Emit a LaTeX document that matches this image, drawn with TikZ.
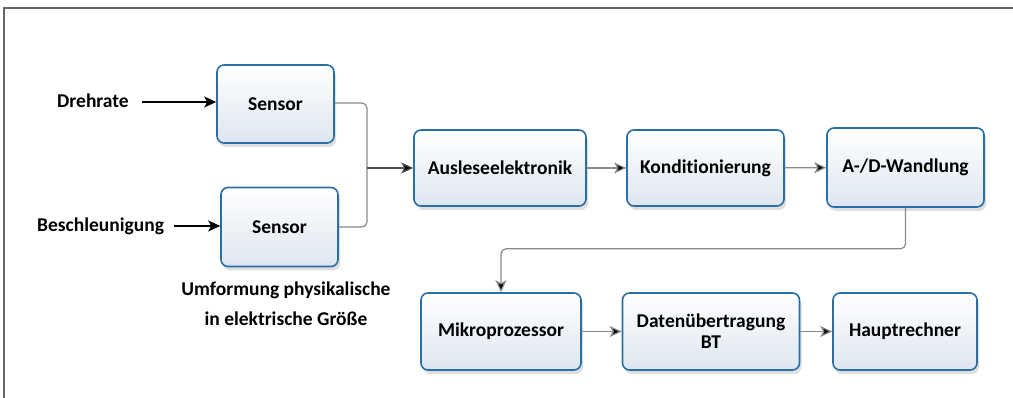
\documentclass[tikz,border=0pt]{standalone}
\usepackage{fontspec}
\setmainfont{Carlito}[Ligatures=NoCommon]
\usetikzlibrary{shadows,arrows.meta}
\definecolor{boxblue}{HTML}{2A6EA6}
\definecolor{boxfill}{HTML}{DDE6F0}
\definecolor{linegray}{HTML}{8A8A8A}
\tikzset{
  blk/.style={draw=boxblue, line width=1.6pt, rounded corners=7pt,
    top color=white, bottom color=boxfill, align=center,
    font=\bfseries\fontsize{19.5}{21}\selectfont, inner sep=0pt,
    drop shadow={shadow xshift=2pt, shadow yshift=-4pt, opacity=0.25, fill=gray}},
  lbl/.style={font=\bfseries\fontsize{19.5}{30}\selectfont, align=center},
  conn/.style={draw=linegray, line width=1.2pt, rounded corners=5pt,
    -{Stealth[length=12pt,width=11pt,inset=3pt,fill=black]}},
  inarr/.style={draw=black, line width=1.3pt, -{Stealth[length=12pt,width=11pt,inset=3pt]}},
}
\begin{document}
\begin{tikzpicture}[x=1pt,y=1pt]
\useasboundingbox (0,0) rectangle (1013,398);
% frame
\draw[draw=gray!80!black, line width=1.5pt] (4,0) -- (4,390) -- (1013,390);
% boxes
\node[blk, minimum width=117pt, minimum height=78pt] (s1) at (275.5,294) {Sensor};
\node[blk, minimum width=117pt, minimum height=79pt] (s2) at (279.5,171) {Sensor};
\node[blk, minimum width=172pt, minimum height=76pt] (ae) at (500,230) {Ausleseelektronik};
\node[blk, minimum width=157pt, minimum height=76pt] (ko) at (705.5,230) {Konditionierung};
\node[blk, minimum width=157pt, minimum height=79pt] (ad) at (905.5,230.5) {A-/D-Wandlung};
\node[blk, minimum width=160pt, minimum height=77pt] (mp) at (501,66.5) {Mikroprozessor};
\node[blk, minimum width=177pt, minimum height=77pt] (dt) at (711,66.5) {Datenübertragung\\BT};
\node[blk, minimum width=144pt, minimum height=77pt] (hr) at (905,66.5) {Hauptrechner};
% labels
\node[lbl, anchor=west, inner sep=0pt] (drl) at (57,297) {Drehrate};
\node[lbl, anchor=west, inner sep=0pt] (bsl) at (37,172) {Beschleunigung};
\node[lbl] (uml) at (286,94) {Umformung physikalische\\in elektrische Größe};
\coordinate (dra) at (142,296);
\coordinate (bsa) at (174,172);
\draw[inarr] (dra) -- (s1.west |- dra);
\draw[inarr] (bsa) -- (s2.west |- bsa);
% connectors
\coordinate (j) at (367,230);
\draw[conn, -] (s1.east |- 0,295) -| (j);
\draw[conn, -] (s2.east |- 0,171) -| (j);
\draw[conn, draw=black!70] (j) -- (ae.west);
\draw[conn] (ae) -- (ko);
\draw[conn] (ko) -- (ad);
\draw[conn] (ad.south) -- ++(0,-41) -| (mp.north);
\draw[conn] (mp) -- (dt);
\draw[conn] (dt) -- (hr);
\end{tikzpicture}
\end{document}
